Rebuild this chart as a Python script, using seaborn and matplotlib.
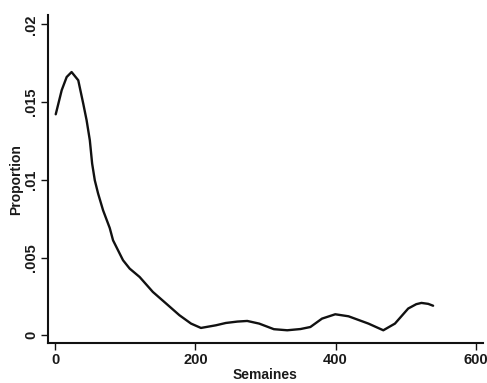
import matplotlib
matplotlib.use("Agg")
import matplotlib.pyplot as plt
import seaborn as sns
import pandas as pd

weeks = [1, 9.5, 16.6, 23.6, 33.1, 40.2, 45, 49.6, 52.9, 56.7, 61.4, 68.5, 78, 82.7,
         92, 96.9, 106.4, 120.6, 139.4, 158.4, 177.3, 193.9, 208, 229.3, 243.5, 260,
         274, 291, 312, 331, 350, 364, 380.6, 399.5, 418.4, 446.8, 468, 484.6, 503.5,
         515, 522.4, 532, 539]
density = [0.01422, 0.01577, 0.01662, 0.01694, 0.01641, 0.01491, 0.01384, 0.01255,
           0.01105, 0.00997, 0.00912, 0.00804, 0.00690, 0.00611, 0.00527, 0.00483,
           0.00429, 0.00375, 0.00279, 0.00204, 0.00129, 0.00075, 0.00047, 0.00064,
           0.00079, 0.00088, 0.00092, 0.00075, 0.00039, 0.00032, 0.00040, 0.00053,
           0.00107, 0.00135, 0.00122, 0.00075, 0.00032, 0.00075, 0.00172, 0.00200,
           0.00208, 0.00202, 0.00190]

x_ticks = [0, 200, 400, 600]
y_ticks = [0, 0.005, 0.01, 0.015, 0.02]
y_tick_labels = ["0", ".005", ".01", ".015", ".02"]

df = pd.DataFrame({"Semaines": weeks, "Proportion": density})

sns.set_theme(style="ticks")
plt.rcParams["font.family"] = ["Liberation Sans Narrow", "Liberation Sans", "DejaVu Sans"]

fig = plt.figure(figsize=(4.87, 3.83), dpi=100)
ax = fig.add_axes([0.0986, 0.1044, 0.893, 0.856])
sns.lineplot(data=df, x="Semaines", y="Proportion", sort=False, color="#111111",
             linewidth=1.7, ax=ax)

ax.set_xlim(-10, 610)
ax.set_ylim(-0.0005, 0.0206)
ax.set_xticks(x_ticks)
ax.set_xticklabels([str(t) for t in x_ticks], fontsize=10.5, fontweight="bold", color="#1a1a1a")
ax.set_yticks(y_ticks)
ax.set_yticklabels(y_tick_labels, fontsize=10.5, fontweight="bold", rotation=90,
                   va="center", color="#1a1a1a")
ax.set_xlabel("Semaines", fontsize=10, fontweight="bold", color="#1a1a1a")
ax.set_ylabel("Proportion", fontsize=10, fontweight="bold", color="#1a1a1a")
ax.yaxis.set_label_coords(-0.057, 0.5)
ax.xaxis.set_label_coords(0.5, -0.075)
for s in ["top", "right"]:
    ax.spines[s].set_visible(False)
for s in ["left", "bottom"]:
    ax.spines[s].set_linewidth(1.5)
    ax.spines[s].set_color("#111111")
ax.tick_params(axis="both", length=5, width=1.0, color="#111111", pad=2)

fig.savefig("out.png", dpi=100)
